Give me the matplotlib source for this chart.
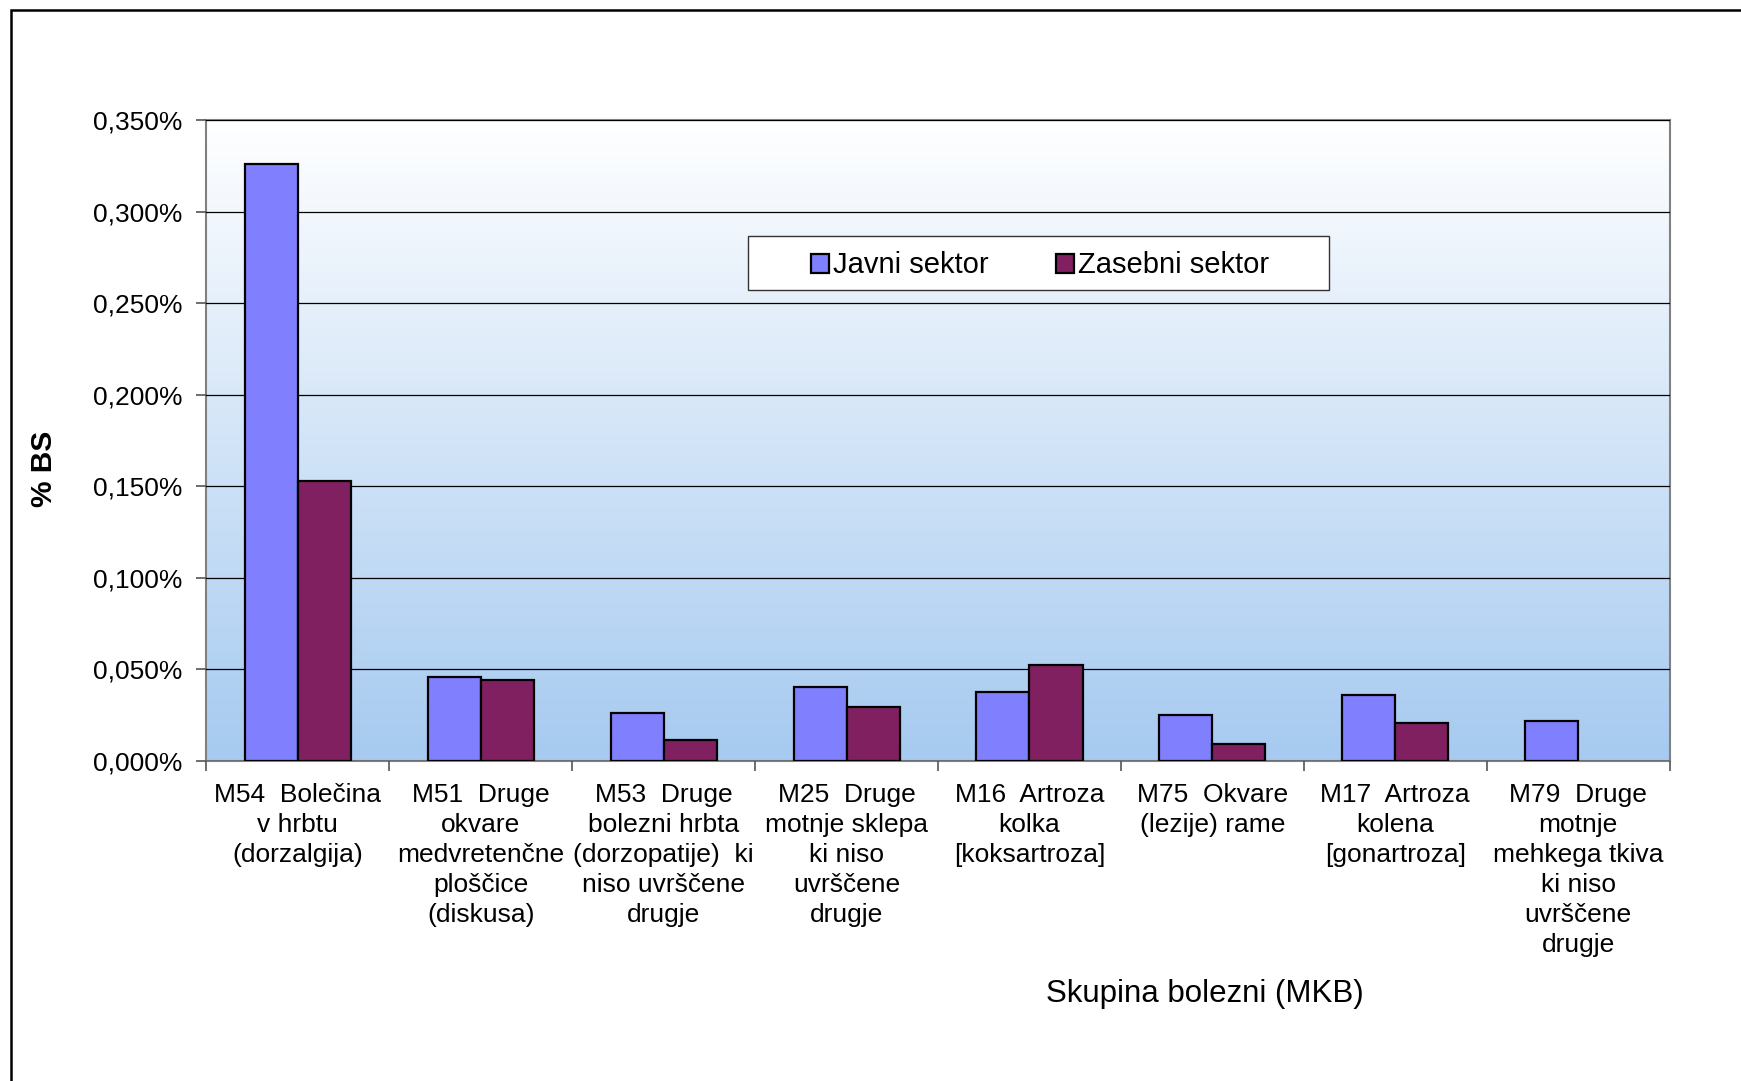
import matplotlib
matplotlib.use('Agg')
import matplotlib.pyplot as plt
import numpy as np
from matplotlib.patches import Rectangle
from matplotlib.ticker import FuncFormatter, MultipleLocator

plt.rcParams['font.family'] = ['Liberation Sans', 'DejaVu Sans']

kategorije = [
    "M54  Bolečina\nv hrbtu\n(dorzalgija)",
    "M51  Druge\nokvare\nmedvretenčne\nploščice\n(diskusa)",
    "M53  Druge\nbolezni hrbta\n(dorzopatije)  ki\nniso uvrščene\ndrugje",
    "M25  Druge\nmotnje sklepa\nki niso\nuvrščene\ndrugje",
    "M16  Artroza\nkolka\n[koksartroza]",
    "M75  Okvare\n(lezije) rame",
    "M17  Artroza\nkolena\n[gonartroza]",
    "M79  Druge\nmotnje\nmehkega tkiva\nki niso\nuvrščene\ndrugje",
]
javni = [0.326, 0.0455, 0.0262, 0.0402, 0.0377, 0.0250, 0.0358, 0.0219]
zasebni = [0.153, 0.0440, 0.0110, 0.0292, 0.0523, 0.0092, 0.0204, 0.0]

fig = plt.figure(figsize=(17.41, 10.81), dpi=100)
ax = fig.add_axes([0.1186, 0.2964, 0.8404, 0.5926])

x = np.arange(len(kategorije))
w = 0.29
ax.bar(x - w/2, javni, w, color='#8080FF', edgecolor='black',
       linewidth=[1.6 if v > 0 else 0 for v in javni], label='Javni sektor', zorder=3)
ax.bar(x + w/2, zasebni, w, color='#802060', edgecolor='black',
       linewidth=[1.6 if v > 0 else 0 for v in zasebni], label='Zasebni sektor', zorder=3)

ax.set_xlim(-0.5, len(kategorije) - 0.5)

# gradient background, white at top to light blue at bottom
grad = np.linspace(0, 1, 256)[:, None, None]
top = np.array([1.0, 1.0, 1.0])
bot = np.array([166, 202, 240]) / 255.0
img = (top + (bot - top) * grad) * np.ones((1, 2, 3))
ax.imshow(img, extent=[-0.5, len(kategorije) - 0.5, 0, 0.35], aspect='auto',
          zorder=0, origin='upper')
ax.set_ylim(0, 0.35)

ax.yaxis.set_major_locator(MultipleLocator(0.05))
ax.yaxis.set_major_formatter(FuncFormatter(lambda v, p: f"{v:.3f}".replace('.', ',') + '%'))
ax.grid(axis='y', color='black', linewidth=0.9, zorder=1)
ax.set_axisbelow(False)

ax.set_xticks(x)
ax.set_xticklabels(kategorije, linespacing=1.32)
ax.set_xticks(np.arange(len(kategorije) + 1) - 0.5, minor=True)
ax.tick_params(axis='x', which='major', length=0, pad=16, labelsize=19)
ax.tick_params(axis='x', which='minor', length=7, color='#555555', width=1.2)
ax.tick_params(axis='y', length=7, color='#555555', width=1.2, labelsize=19, pad=10)

for s in ax.spines.values():
    s.set_color('#808080')
    s.set_linewidth(1.5)

fig.text(0.0255, 0.566, '% BS', rotation=90, ha='center', va='center',
         fontsize=21.5, fontweight='bold')
fig.text(0.692, 0.0805, 'Skupina bolezni (MKB)', ha='center', va='center',
         fontsize=22.5)

# legend
lx0, ly0, lw, lh = 748/1741, 1 - 290/1081, 581/1741, 53.5/1081
ax.add_patch(Rectangle((lx0, ly0), lw, lh, transform=fig.transFigure,
                       facecolor='white', edgecolor='#333333', linewidth=1.0,
                       zorder=6, clip_on=False))
leg = ax.legend(loc='center', bbox_to_anchor=(lx0 + lw/2 + 0.001, ly0 + lh/2 - 0.002),
                bbox_transform=fig.transFigure, ncol=2, frameon=False,
                fontsize=21, handlelength=0.62, handleheight=0.62,
                handletextpad=0.15, columnspacing=2.3)
leg.set_zorder(10)

# outer border
fig.patches.append(Rectangle((11/1741, -0.05), 1.1, 1.05 - 10/1081,
                             transform=fig.transFigure, fill=False,
                             edgecolor='black', linewidth=1.8))

fig.savefig('out.png', dpi=100)
